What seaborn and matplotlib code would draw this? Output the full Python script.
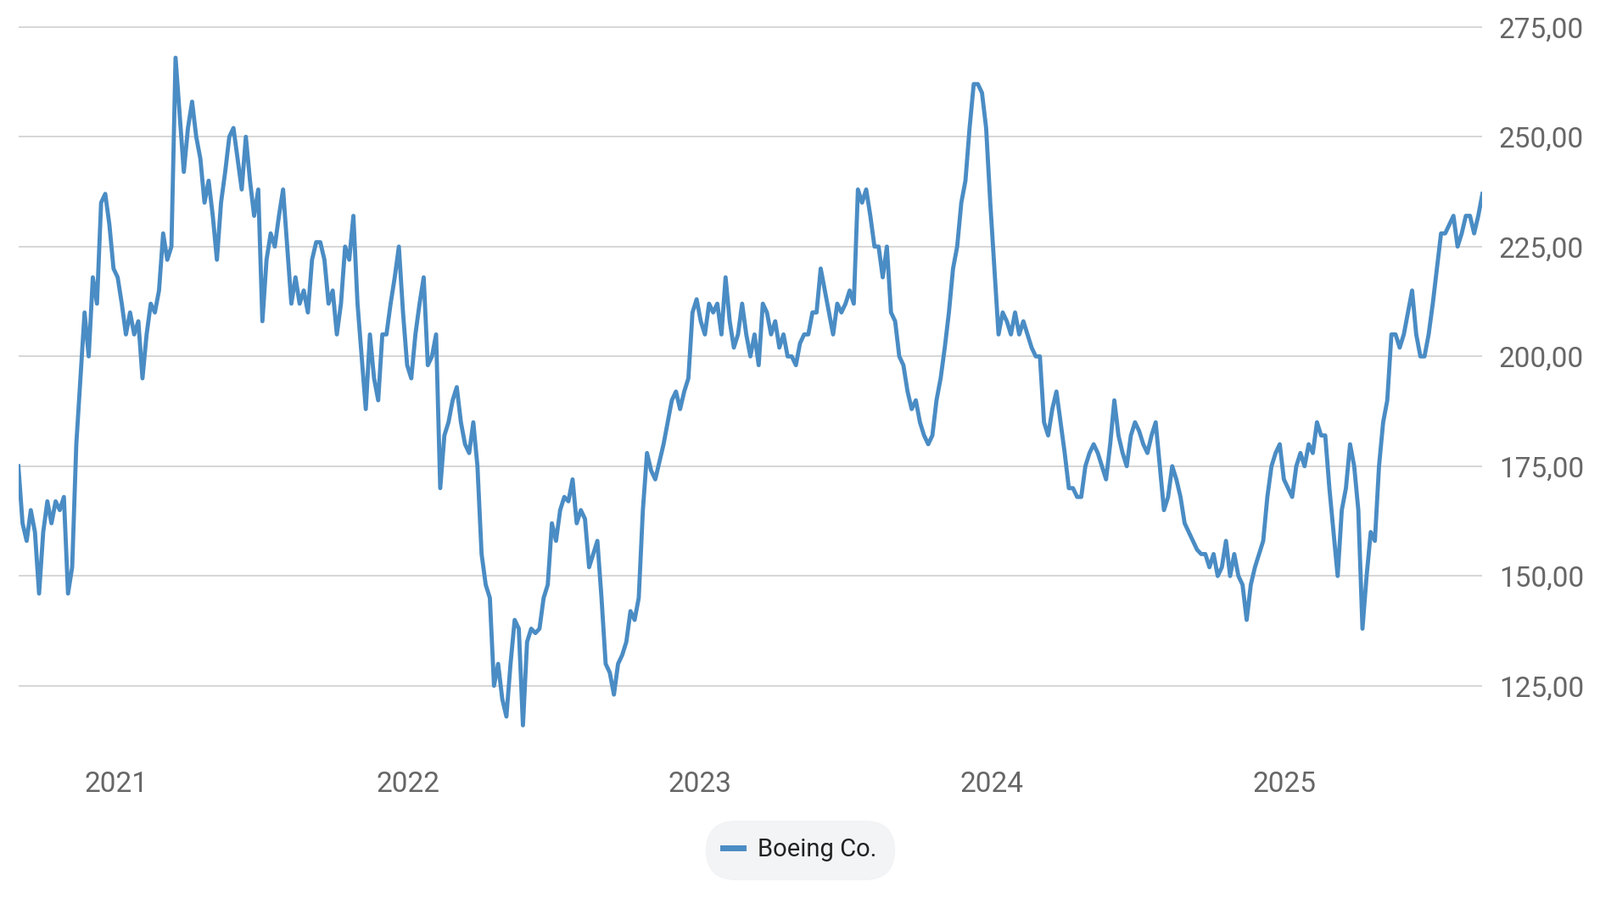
import matplotlib
matplotlib.use("Agg")
import matplotlib.pyplot as plt
import matplotlib.ticker as mticker
import seaborn as sns
import pandas as pd
import numpy as np

start_date = "2020-09-01"
end_date = "2025-09-05"
prices = [175,162,158,165,160,146,160,167,162,167,165,168,146,152,180,195,210,200,218,212,235,237,230,220,218,212,205,210,205,208,195,205,212,210,215,228,222,225,268,255,242,252,258,250,245,235,240,232,222,235,242,250,252,245,238,250,240,232,238,208,222,228,225,232,238,225,212,218,212,215,210,222,226,226,222,212,215,205,212,225,222,232,212,200,188,205,195,190,205,205,212,218,225,210,198,195,205,212,218,198,200,205,170,182,185,190,193,185,180,178,185,175,155,148,145,125,130,122,118,130,140,138,116,135,138,137,138,145,148,162,158,165,168,167,172,162,165,163,152,155,158,145,130,128,123,130,132,135,142,140,145,165,178,174,172,176,180,185,190,192,188,192,195,210,213,208,205,212,210,212,205,218,208,202,205,212,205,200,205,198,212,210,205,208,202,205,200,200,198,203,205,205,210,210,220,215,210,205,212,210,212,215,212,238,235,238,232,225,225,218,225,210,208,200,198,192,188,190,185,182,180,182,190,195,202,210,220,225,235,240,252,262,262,260,252,235,220,205,210,208,205,210,205,208,205,202,200,200,185,182,188,192,185,178,170,170,168,168,175,178,180,178,175,172,180,190,182,178,175,182,185,183,180,178,182,185,175,165,168,175,172,168,162,160,158,156,155,155,152,155,150,152,158,150,155,150,148,140,148,152,155,158,168,175,178,180,172,170,168,175,178,175,180,178,185,182,182,170,160,150,165,170,180,175,165,138,150,160,158,175,185,190,205,205,202,205,210,215,205,200,200,205,212,220,228,228,230,232,225,228,232,232,228,232,237]
y_ticks = [125, 150, 175, 200, 225, 250, 275]
series_name = "Boeing Co."

dates = pd.date_range(start_date, end_date, periods=len(prices))
df = pd.DataFrame({"date": dates, "price": prices})

plt.rcParams["font.family"] = "Roboto"
fig = plt.figure(figsize=(18.86, 10.65), dpi=100)
ax = fig.add_axes([0.0115, 0.17, 0.915, 0.805])
color = "#4a8cc4"
sns.lineplot(data=df, x="date", y="price", ax=ax, color=color, linewidth=3.5, label=series_name, legend=False)

ax.set_ylim(110.5, 276)
ax.set_xlim(dates[0], dates[-1])
ax.yaxis.tick_right()
ax.set_yticks(y_ticks)
ax.yaxis.set_major_formatter(mticker.FuncFormatter(lambda v, p: f"{v:.2f}".replace(".", ",")))
ax.xaxis.set_major_locator(matplotlib.dates.YearLocator())
ax.xaxis.set_major_formatter(matplotlib.dates.DateFormatter("%Y"))
ax.tick_params(axis="both", length=0, labelsize=24, colors="#666666")
ax.tick_params(axis="y", pad=14)
ax.tick_params(axis="x", pad=18)
ax.grid(axis="y", color="#d0d0d0", linewidth=1.2)
ax.grid(axis="x", visible=False)
for s in ax.spines.values():
    s.set_visible(False)
ax.set_xlabel("")
ax.set_ylabel("")

h, l = ax.get_legend_handles_labels()
leg = fig.legend(h, l, loc="center", bbox_to_anchor=(0.5, 0.059), frameon=True,
                 fontsize=21, handlelength=0.8, handletextpad=0.6, borderpad=0.5,
                 fancybox=True)
leg.get_frame().set_facecolor("#f1f2f4")
leg.get_frame().set_edgecolor("#f1f2f4")
leg.get_frame().set_boxstyle("round,pad=0.2,rounding_size=1.2")
for line in leg.get_lines():
    line.set_linewidth(5)
for t in leg.get_texts():
    t.set_color("#222222")

fig.savefig("out.png", dpi=100, facecolor="white")
